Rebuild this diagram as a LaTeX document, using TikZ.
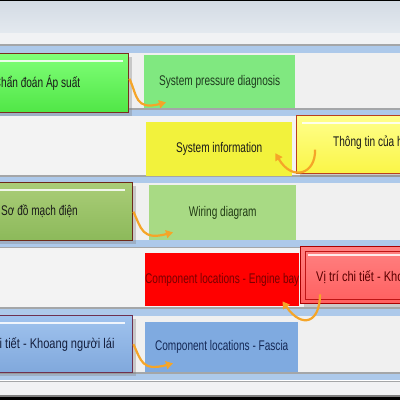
\documentclass[tikz,border=0pt]{standalone}
\usepackage{fontspec}
\usepackage{graphicx}
\setmainfont{Liberation Sans}
\newcommand\nt[1]{\scalebox{0.72}[1]{#1}}
\newcommand\nw[1]{\scalebox{0.79}[1]{#1}}
\usetikzlibrary{arrows.meta,shadows}
\definecolor{hdA}{HTML}{D3DBE4}
\definecolor{hdB}{HTML}{E4E9EF}
\definecolor{hdW}{HTML}{F1F2F4}
\definecolor{gl}{HTML}{A4A6A8}
\definecolor{bl}{HTML}{ADC9EA}
\definecolor{rowA}{HTML}{F0F0F0}
\definecolor{rowB}{HTML}{F3F3F3}
\definecolor{grA}{HTML}{80E880}
\definecolor{yeA}{HTML}{F2F23C}
\definecolor{grB}{HTML}{A8DA84}
\definecolor{reA}{HTML}{FF0000}
\definecolor{buA}{HTML}{7FAAE0}
\definecolor{arrc}{HTML}{F5A528}
\definecolor{c1d}{HTML}{7A2E1E}
\definecolor{c1t}{HTML}{80FF78}
\definecolor{c1b}{HTML}{50E646}
\definecolor{c2d}{HTML}{B8401E}
\definecolor{c2t}{HTML}{FFFF8C}
\definecolor{c2b}{HTML}{FAF546}
\definecolor{c3d}{HTML}{6E2A1A}
\definecolor{c3t}{HTML}{AACD78}
\definecolor{c3b}{HTML}{8CB95A}
\definecolor{c4d}{HTML}{AA0000}
\definecolor{c4i}{HTML}{BE1414}
\definecolor{c4t}{HTML}{FF8282}
\definecolor{c4b}{HTML}{FF5F5F}
\definecolor{c5d}{HTML}{6E3050}
\definecolor{c5t}{HTML}{A0C3EE}
\definecolor{c5b}{HTML}{80A8DC}
\definecolor{tx1}{HTML}{1E3A1E}
\definecolor{tx3}{HTML}{203A14}
\definecolor{tx4}{HTML}{780000}
\definecolor{tx4c}{HTML}{5A0000}
\definecolor{tx5}{HTML}{142855}
\definecolor{tx5c}{HTML}{141E3C}
\begin{document}
\begin{tikzpicture}[x=1pt,y=-1pt,
  lbl/.style={font=\fontsize{14}{16}\selectfont, inner sep=0pt, anchor=west},
  rbox/.style={rectangle, inner sep=0pt, anchor=north west, font=\fontsize{14}{16}\selectfont},
  callout/.style n args={3}{rectangle, inner sep=0pt, anchor=north west, draw=#1, line width=1.4pt,
     top color=#2, bottom color=#3, drop shadow={shadow xshift=3pt, shadow yshift=-3pt, opacity=0.35}},
  arr/.style={draw=arrc, line width=2.2pt, -{Triangle[length=7pt,width=8pt]}},
  hl/.style={draw=white, line width=1.2pt, opacity=0.85},
]
\useasboundingbox (0,0) rectangle (400,400);
\clip (0,0) rectangle (400,400);
% background bands
\fill[black] (0,0) rectangle (400,1.5);
\shade[top color=hdA,bottom color=hdB] (0,1.5) rectangle (400,33);
\fill[hdW] (0,33) rectangle (400,44);
\fill[gl] (0,44) rectangle (400,45.5);
\fill[bl] (0,45.5) rectangle (400,53);
\fill[rowA] (0,53) rectangle (400,108);
\fill[gl] (0,108) rectangle (400,109.5);
\fill[bl] (0,109.5) rectangle (400,116);
\fill[rowB] (0,116) rectangle (400,175);
\fill[gl] (0,175) rectangle (400,176.5);
\fill[bl] (0,176.5) rectangle (400,183);
\fill[rowA] (0,183) rectangle (400,240);
\fill[bl] (0,240) rectangle (400,246.5);
\fill[gl] (0,246.5) rectangle (400,248);
\fill[rowB] (0,248) rectangle (400,307);
\fill[gl] (0,307) rectangle (400,308.5);
\fill[bl] (0,308.5) rectangle (400,316);
\fill[rowA] (0,316) rectangle (400,372);
\fill[gl] (0,372) rectangle (400,373.5);
\fill[bl] (0,373.5) rectangle (400,380);
\fill[gl] (0,380.5) rectangle (400,382);
\fill[hdW] (0,382) rectangle (400,394.5);
\fill[gray] (0,394.5) rectangle (400,396.5);
\fill[black] (0,396.5) rectangle (400,400);

% right-hand boxes
\node[rbox, fill=grA, minimum width=151pt, minimum height=53pt, text=tx1] (b1) at (144,55) {\nt{System pressure diagnosis}};
\node[rbox, fill=yeA, minimum width=146pt, minimum height=54pt, text=black!90] (b2) at (146,122) {\nt{System information}};
\node[rbox, fill=grB, minimum width=147pt, minimum height=55pt, text=tx3] (b3) at (149,185) {\nt{Wiring diagram}};
\node[rbox, fill=reA, minimum width=152pt, minimum height=53pt, text=tx4] (b4) at (145,253) {\nt{Component locations - Engine bay}};
\node[rbox, fill=buA, minimum width=153pt, minimum height=50pt, text=tx5] (b5) at (145,322) {\nt{Component locations - Fascia}};

% callouts
\node[callout={c1d}{c1t}{c1b}, minimum width=138pt, minimum height=59pt] (c1) at (-10,53) {};
\draw[hl] ([shift={(2,8)}]c1.north west) -- ([shift={(-6,8)}]c1.north east);
\node[lbl, text=black!90] (t1) at (-6.3,83) {\nt{Chẩn đoán Áp suất}};

\node[callout={c2d}{c2t}{c2b}, minimum width=120pt, minimum height=58pt] (c2) at (296,115) {};
\draw[hl] ([shift={(6,8)}]c2.north west) -- ([shift={(-2,8)}]c2.north east);
\node[lbl, text=black!90] (t2) at (333,143) {\nt{Thông tin của hệ thống}};

\node[callout={c3d}{c3t}{c3b}, minimum width=142pt, minimum height=58pt] (c3) at (-10,182) {};
\draw[hl] ([shift={(2,8)}]c3.north west) -- ([shift={(-8,8)}]c3.north east);
\node[lbl, text=black!90] (t3) at (1,211) {\nt{Sơ đồ mạch điện}};

\node[callout={c4d}{c4t}{c4b}, minimum width=120pt, minimum height=57pt] (c4) at (300,246) {};
\draw[draw=c4i, line width=0.9pt] ([shift={(5,5)}]c4.north west) rectangle ([shift={(5,-5)}]c4.south east);
\draw[hl] ([shift={(8,9)}]c4.north west) -- ([shift={(-2,9)}]c4.north east);
\node[lbl, text=tx4c] (t4) at (316,278) {\nw{Vị trí chi tiết - Khoang động cơ}};

\node[callout={c5d}{c5t}{c5b}, minimum width=142pt, minimum height=57pt] (c5) at (-10,315) {};
\draw[hl] ([shift={(2,8)}]c5.north west) -- ([shift={(-8,8)}]c5.north east);
\node[lbl, text=tx5c] (t5) at (-38,345) {\nw{Vị trí chi tiết - Khoang người lái}};

% arrows
\draw[arr] ([yshift=4.5pt]c1.east) .. controls +(8,17) and +(-31,8) .. ([shift={(22,-6)}]b1.south west);
\draw[arr] ([shift={(19,5)}]c2.west) .. controls +(1,24) and +(17,29) .. ([shift={(-17,4)}]b2.east);
\draw[arr] (c3.east) .. controls +(8,17) and +(-31,8) .. ([shift={(24,-8)}]b3.south west);
\draw[arr] ([shift={(20,-10)}]c4.south west) .. controls +(0,28) and +(20,28) .. ([shift={(-17,-5)}]b4.south east);
\draw[arr] (c5.east) .. controls +(8,17) and +(-31,8) .. ([shift={(28,-9)}]b5.south west);
\end{tikzpicture}
\end{document}
